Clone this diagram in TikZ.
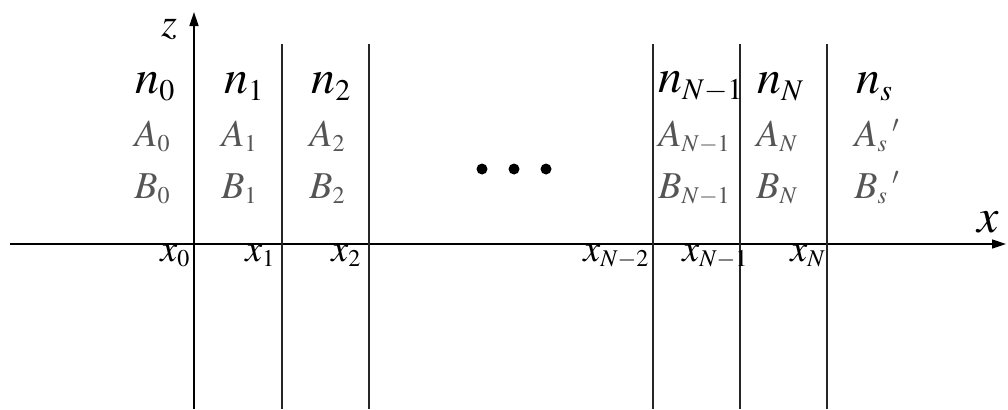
\documentclass[tikz,border=0pt]{standalone}
\usepackage{mathptmx}
\usetikzlibrary{arrows.meta}
\definecolor{labgray}{HTML}{555555}
\DeclareMathSizes{24}{24}{15}{11}
\DeclareMathSizes{19}{19}{12}{9}
\DeclareMathSizes{20}{20}{13}{9}

\begin{document}
\begin{tikzpicture}[x=0.5pt, y=-0.5pt,
  axis/.style={line width=0.8pt, -{Triangle[length=7pt,width=4.5pt]}},
  wall/.style={line width=0.6pt, draw=black!85},
  idx/.style={font=\fontsize{24}{26}\selectfont, inner sep=0pt, anchor=base west},
  coef/.style={font=\fontsize{19}{21}\selectfont, text=labgray, inner sep=0pt, anchor=base west},
  bound/.style={font=\fontsize{19}{21}\selectfont, inner sep=0pt, anchor=base west},
  dot/.style={circle, fill=black, inner sep=0pt, minimum size=5.5pt}]
  \useasboundingbox (0,0) rectangle (1008,409);

  % axes
  \coordinate (xl) at (10,244);
  \coordinate (xr) at (1006,244);
  \coordinate (zb) at (194,409);
  \coordinate (zt) at (194,12);
  \draw[axis] (xl) -- (xr);
  \draw[axis] (zb) -- (zt);
  \node[idx, font=\fontsize{20}{22}\selectfont] (zlab) at (161,36) {$z$};
  \node[idx] (xlab) at (977,232) {$x$};

  % interfaces
  \foreach \i/\xx in {1/282, 2/369, m/653, n/740, s/827}{
    \coordinate (t\i) at (\xx,44);
    \coordinate (b\i) at (\xx,409);
    \draw[wall] (t\i) -- (b\i);
  }

  % layer indices
  \node[idx] (n0) at (135,93) {$n_0$};
  \node[idx] (n1) at (224,93) {$n_1$};
  \node[idx] (n2) at (311,93) {$n_2$};
  \node[idx] (nm) at (658,92) {$n_{N-1}$};
  \node[idx] (nn) at (757,93) {$n_N$};
  \node[idx] (ns) at (856,93) {$n_s$};

  % amplitudes
  \node[coef] (a0) at (134,146) {$A_0$};
  \node[coef] (a1) at (221,146) {$A_1$};
  \node[coef] (a2) at (309,146) {$A_2$};
  \node[coef] (am) at (658,146) {$A_{N-1}$};
  \node[coef] (an) at (756,146) {$A_{N}$};
  \node[coef] (as) at (854,146) {$A_s\,'$};

  \node[coef] (b0) at (134,198) {$B_0$};
  \node[coef] (b1) at (221,198) {$B_1$};
  \node[coef] (b2) at (309,198) {$B_2$};
  \node[coef] (bm) at (658,198) {$B_{N-1}$};
  \node[coef] (bn) at (756,198) {$B_{N}$};
  \node[coef] (bs) at (854,198) {$B_s\,'$};

  % dots
  \node[dot] (d1) at (482,169) {};
  \node[dot] (d2) at (514,169) {};
  \node[dot] (d3) at (546,169) {};

  % boundary positions
  \node[bound] (x0) at (160,261) {$x_0$};
  \node[bound] (x1) at (245,261) {$x_1$};
  \node[bound] (x2) at (331,261) {$x_2$};
  \node[bound] (xm2) at (583,261) {$x_{N-2}$};
  \node[bound] (xm1) at (682,261) {$x_{N-1}$};
  \node[bound] (xn) at (790,261) {$x_N$};
\end{tikzpicture}
\end{document}
